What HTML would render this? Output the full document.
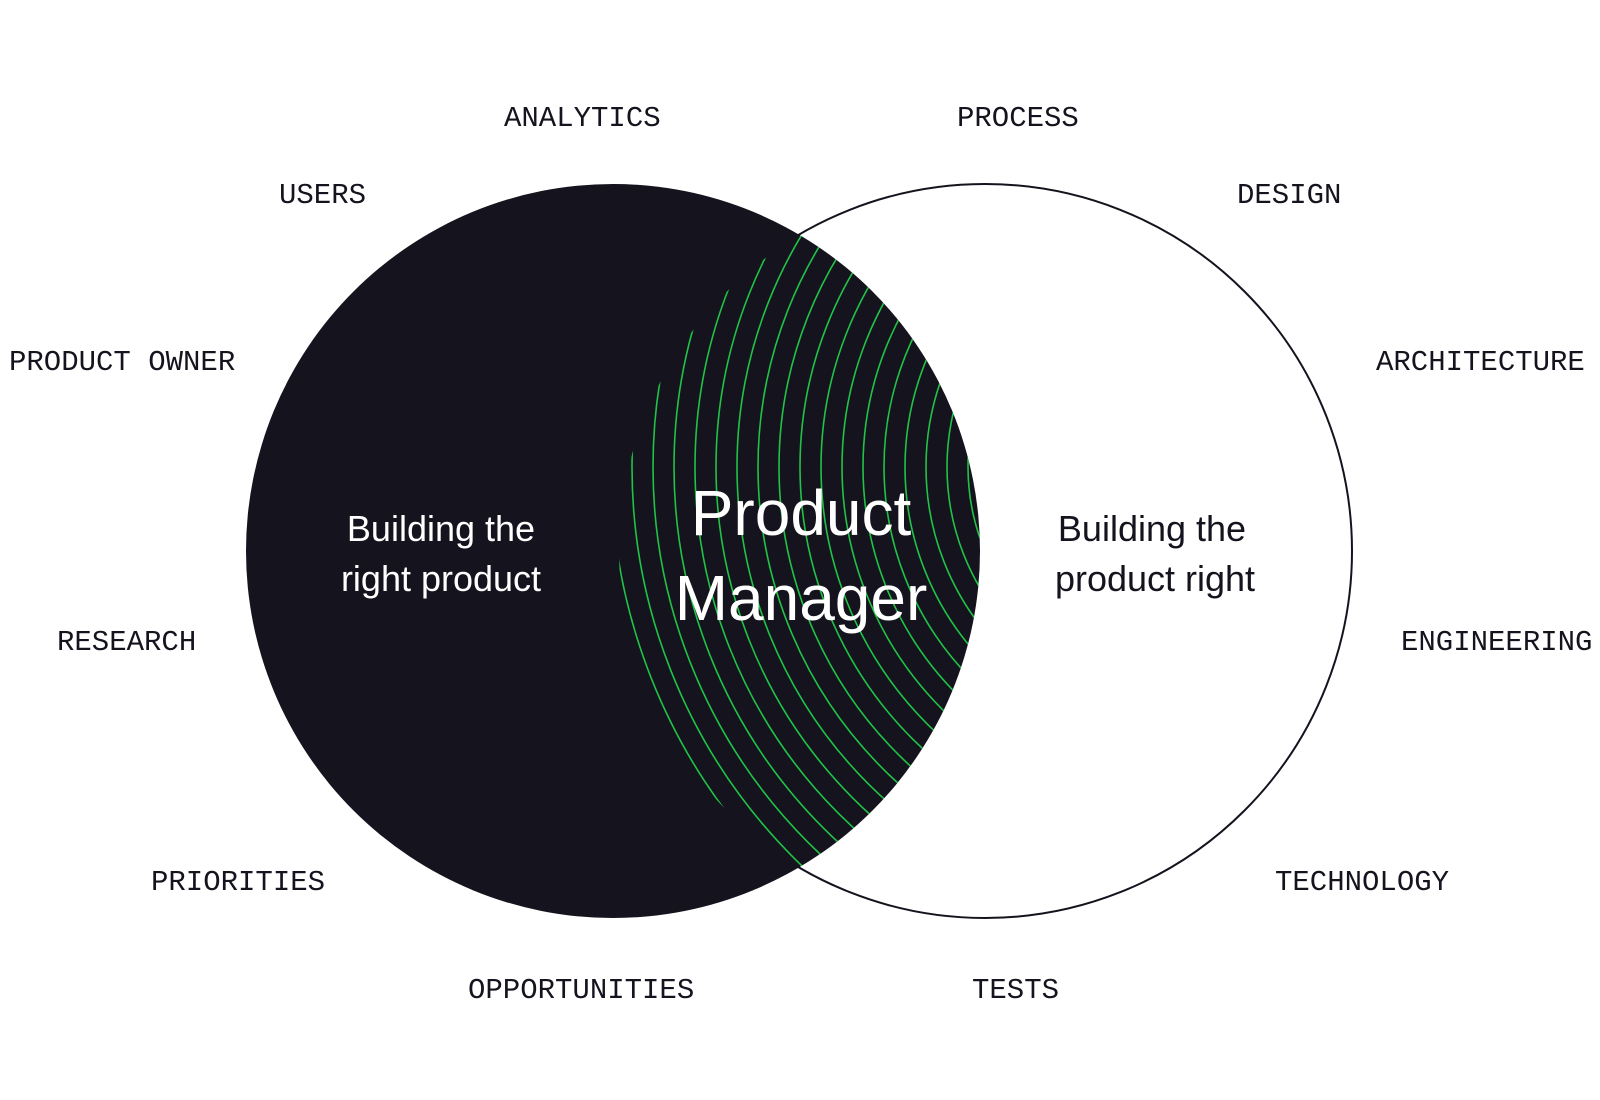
<!DOCTYPE html>
<html><head><meta charset="utf-8"><style>
html,body{margin:0;padding:0;background:#fff;}
svg{display:block;}
.l{font-family:"Liberation Mono",monospace;font-size:29px;fill:#15131d;}
.s{font-family:"Liberation Sans",sans-serif;fill:#fff;text-anchor:middle;}
</style></head><body>
<svg width="1600" height="1100" viewBox="0 0 1600 1100" xmlns="http://www.w3.org/2000/svg">
<defs>
<clipPath id="rc"><circle cx="985" cy="551" r="366"/></clipPath>
<clipPath id="lc"><circle cx="613" cy="551" r="367"/></clipPath>
<clipPath id="poly">
<polygon points="800,150 760,257 727,287 673,332 653,378 633,449 614,546 615,600 640,680 680,760 723,810 800,950 1100,950 1100,150"/>
</clipPath>
</defs>
<circle cx="985" cy="551" r="367" fill="#fff" stroke="#15131d" stroke-width="2"/>
<circle cx="613" cy="551" r="367" fill="#15131d"/>
<g clip-path="url(#lc)"><g clip-path="url(#rc)">
<g clip-path="url(#poly)" fill="none" stroke="#1fc447" stroke-width="1.6">
<circle cx="1185" cy="467" r="574"/>
<circle cx="1185" cy="467" r="553"/>
<circle cx="1185" cy="467" r="532"/>
<circle cx="1185" cy="467" r="511"/>
<circle cx="1185" cy="467" r="490"/>
<circle cx="1185" cy="467" r="469"/>
<circle cx="1185" cy="467" r="448"/>
<circle cx="1185" cy="467" r="427"/>
<circle cx="1185" cy="467" r="406"/>
<circle cx="1185" cy="467" r="385"/>
<circle cx="1185" cy="467" r="364"/>
<circle cx="1185" cy="467" r="343"/>
<circle cx="1185" cy="467" r="322"/>
<circle cx="1185" cy="467" r="301"/>
<circle cx="1185" cy="467" r="280"/>
<circle cx="1185" cy="467" r="259"/>
<circle cx="1185" cy="467" r="238"/>
<circle cx="1185" cy="467" r="217"/>
</g>
</g></g>
<text class="s" x="441" y="541" font-size="36">Building the</text>
<text class="s" x="441" y="591" font-size="36">right product</text>
<text class="s" x="1152" y="541" font-size="36" style="fill:#15131d">Building the</text>
<text class="s" x="1155" y="591" font-size="36" style="fill:#15131d">product right</text>
<text class="s" x="801" y="535" font-size="64">Product</text>
<text class="s" x="801" y="620" font-size="64">Manager</text>
<text class="l" x="504" y="126">ANALYTICS</text>
<text class="l" x="957" y="126">PROCESS</text>
<text class="l" x="279" y="203">USERS</text>
<text class="l" x="1237" y="203">DESIGN</text>
<text class="l" x="9" y="370">PRODUCT OWNER</text>
<text class="l" x="1376" y="370">ARCHITECTURE</text>
<text class="l" x="57" y="650">RESEARCH</text>
<text class="l" x="1401" y="650">ENGINEERING</text>
<text class="l" x="151" y="890">PRIORITIES</text>
<text class="l" x="1275" y="890">TECHNOLOGY</text>
<text class="l" x="468" y="998">OPPORTUNITIES</text>
<text class="l" x="972" y="998">TESTS</text>
</svg>
</body></html>
